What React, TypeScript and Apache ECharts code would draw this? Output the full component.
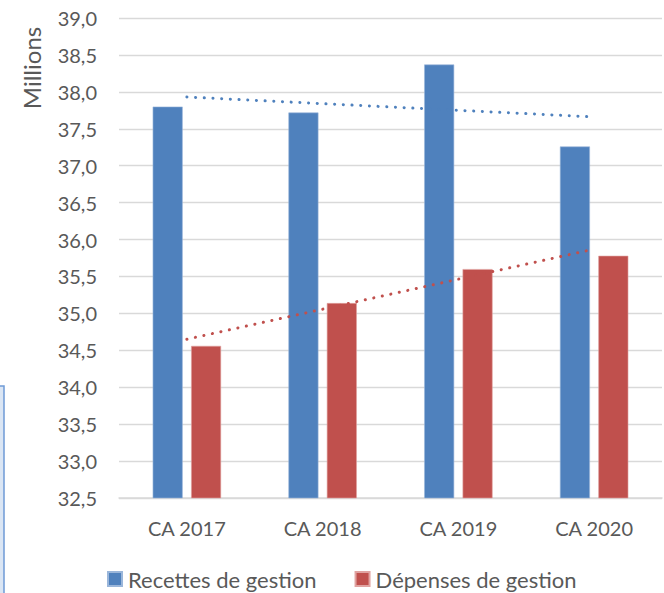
import React, { useEffect, useRef } from "react";
import * as echarts from "echarts";

const categories = ["CA 2017", "CA 2018", "CA 2019", "CA 2020"];
const recettes = [37.8, 37.72, 38.37, 37.26];
const depenses = [34.56, 35.14, 35.6, 35.78];
// Linear trendlines (start at first category, end at last)
const trendRecettes = [37.93, null, null, 37.66];
const trendDepenses = [34.65, null, null, 35.87];
const seriesNames = ["Recettes de gestion", "Dépenses de gestion"];
const yTicks = { min: 32.5, max: 39, interval: 0.5 };

const FONT = "Lato";
const TEXT = "#595959";
const BLUE = "#4F81BD";
const RED = "#C0504D";

export default function App() {
  const ref = useRef<HTMLDivElement>(null);
  useEffect(() => {
    if (!ref.current) return;
    const chart = echarts.init(ref.current, undefined, { renderer: "svg" });
    chart.setOption({
      animation: false,
      backgroundColor: "#ffffff",
      textStyle: { fontFamily: FONT, color: TEXT },
      grid: { left: 119, right: 2, top: 18, bottom: 95, containLabel: false },
      legend: {
        data: seriesNames,
        left: 107,
        top: 568,
        itemWidth: 14,
        itemHeight: 14,
        itemGap: 38,
        icon: "rect",
        textStyle: { fontFamily: FONT, fontSize: 22, color: TEXT, padding: [0, 0, 0, 1], lineHeight: 22 },
        padding: 0,
      },
      xAxis: {
        type: "category",
        data: categories,
        axisLine: { lineStyle: { color: "#d9d9d9", width: 1.5 } },
        axisTick: { show: false },
        axisLabel: { fontFamily: FONT, fontSize: 20, color: TEXT, margin: 20 },
        splitLine: { show: false },
      },
      yAxis: {
        type: "value",
        min: yTicks.min,
        max: yTicks.max,
        interval: yTicks.interval,
        axisLine: { show: false },
        axisTick: { show: false },
        axisLabel: {
          fontFamily: FONT,
          fontSize: 20,
          color: TEXT,
          margin: 22,
          formatter: (v: number) => v.toFixed(1).replace(".", ","),
        },
        splitLine: { lineStyle: { color: "#d9d9d9", width: 1.3 } },
      },
      graphic: [
        {
          type: "text",
          x: 31,
          y: 68,
          rotation: Math.PI / 2,
          style: {
            text: "Millions",
            fontFamily: FONT,
            fontSize: 24,
            fill: TEXT,
            align: "center",
            verticalAlign: "middle",
          },
        },
        {
          type: "rect",
          shape: { x: -20, y: 386, width: 24, height: 300 },
          style: { fill: "#dbe6f4", stroke: "#6f9bd6", lineWidth: 1.5 },
        },
      ],
      series: [
        {
          name: seriesNames[0],
          type: "bar",
          data: recettes,
          barWidth: 30,
          barGap: "28%",
          itemStyle: { color: BLUE, borderColor: "#9ab6da", borderWidth: 0.6 },
        },
        {
          name: seriesNames[1],
          type: "bar",
          data: depenses,
          barWidth: 30,
          itemStyle: { color: RED, borderColor: "#e0a3a1", borderWidth: 0.6 },
        },
        {
          name: "trend1",
          type: "line",
          data: trendRecettes,
          connectNulls: true,
          symbol: "none",
          z: 5,
          lineStyle: { color: BLUE, width: 3, type: [0.1, 8.6], cap: "round" },
        },
        {
          name: "trend2",
          type: "line",
          data: trendDepenses,
          connectNulls: true,
          symbol: "none",
          z: 5,
          lineStyle: { color: RED, width: 3, type: [0.1, 8.6], cap: "round" },
        },
      ],
    });
    return () => chart.dispose();
  }, []);
  return (
    <div
      ref={ref}
      style={{ position: "fixed", left: 0, top: 0, width: 664, height: 593 }}
    />
  );
}
